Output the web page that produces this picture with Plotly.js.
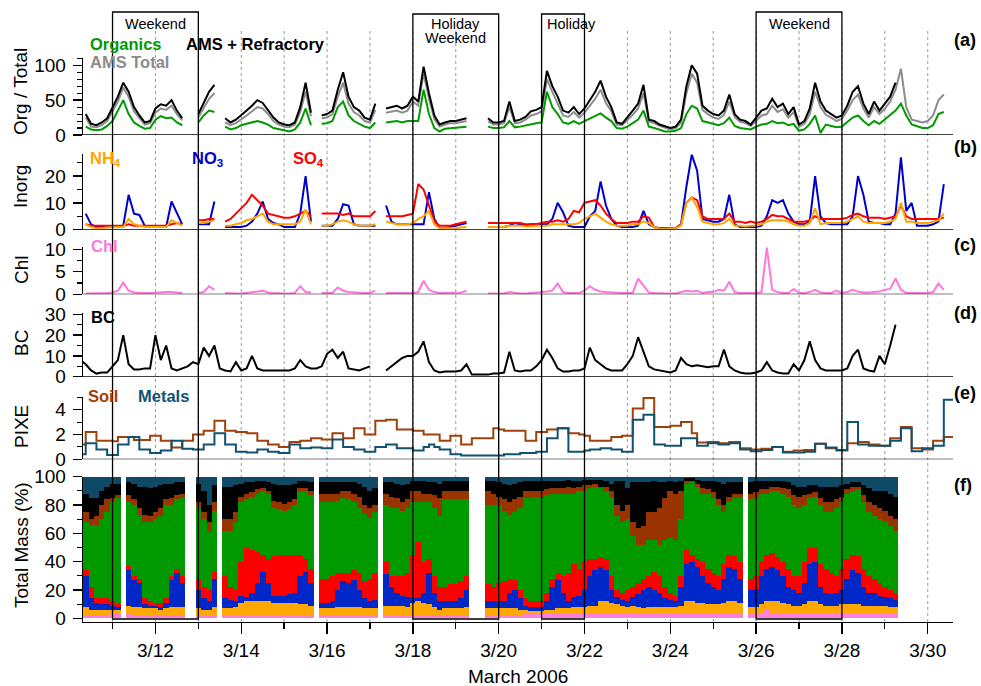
<!DOCTYPE html>
<html><head><meta charset="utf-8">
<script src="https://cdn.plot.ly/plotly-3.0.1.min.js"></script>
<style>html,body{margin:0;padding:0;background:#fff}#chart{width:981px;height:686px}</style>
</head><body><div id="chart"></div>
<script>
const n = null;
// 3-hourly time base, 2006-03-10 00:00 .. 2006-03-30 21:00 (8 values per day)
const times = [];
for (let d = 10; d <= 30; d++) for (let h = 0; h < 24; h += 3) times.push('2006-03-' + d + ' ' + String(h).padStart(2, '0') + ':00');

// (a) AMS + Refractory, AMS Total, Organics (ug/m3)
const amsRef = [
 n,n,n,30,16,14,18,24, 40,55,75,62,40,28,18,20, 38,44,42,50,35,24,n,n, 30,45,62,72,n,24,18,22,
 28,35,42,50,46,36,25,18, 15,14,18,40,75,32,n,28, 30,35,65,90,55,40,35,25, 22,45,n,38,40,42,38,42,
 55,48,98,60,28,15,18,20, 20,22,24,n,n,n,24,18, 18,20,48,20,22,26,34,36, 40,92,70,55,35,32,40,30,
 38,50,62,78,55,40,18,16, 25,35,45,72,22,20,15,12, 10,12,22,70,100,88,42,35, 30,28,35,58,30,22,20,15,
 25,35,38,52,40,45,30,40, 15,20,38,75,48,35,30,25, 28,42,62,70,45,30,48,35, 45,55,75,n,n,n,n,n,
 n,n,n,n,n,n,n,n];
const amsTot = [
 n,n,n,25,12,11,14,20, 33,48,68,55,34,24,15,17, 32,38,36,42,30,21,n,n, 25,38,52,60,n,18,14,17,
 22,28,34,40,38,30,20,15, 12,11,15,33,62,27,n,24, 25,30,55,75,45,33,28,20, 18,36,n,32,33,35,32,35,
 48,42,88,52,23,12,15,17, 17,19,20,n,n,n,20,15, 15,17,40,17,18,22,28,30, 34,80,62,46,28,26,33,25,
 32,42,52,65,46,34,15,14, 21,29,38,60,19,17,13,10, 8,10,18,60,88,75,36,30, 25,23,29,48,26,19,17,13,
 20,28,30,42,33,37,25,33, 12,16,30,62,40,29,25,20, 23,35,50,58,38,25,40,30, 38,48,65,95,40,22,20,18,
 20,28,50,58,n,n,n,n];
const org = [
 n,n,n,12,8,7,8,13, 20,35,50,30,18,13,9,10, 22,27,24,25,18,14,n,n, 18,28,35,33,n,12,8,10,
 14,16,18,20,18,15,10,8, 6,5,8,18,38,14,n,16, 17,20,40,48,28,20,16,12, 10,18,n,18,19,20,18,20,
 20,20,65,30,10,5,9,10, 10,11,12,n,n,n,12,10, 10,11,20,11,12,14,16,17, 18,62,40,30,18,16,20,16,
 20,24,28,31,25,20,10,9, 12,17,22,35,12,10,7,5, 5,6,10,30,42,38,20,18, 15,14,17,25,13,10,9,8,
 12,15,16,20,17,18,14,16, 6,8,16,28,3,15,13,11, 12,18,25,28,20,14,20,16, 22,28,35,45,28,15,12,10,
 10,14,30,33,n,n,n,n];

// (b) inorganics
const no3 = [
 n,n,n,6,2,1,1,1, 1,1,1.5,13,6,5.5,1.5,1, 1,1,1,10.5,6,2,n,n, 2,2,2,10.5,n,1,1,1,
 1,1.5,3,6,10.5,4,2.5,2, 1,1,1,6,20,3,n,1.5, 1.5,1.5,4,9.5,9,2,1.5,1.5, 1.5,1.5,n,9,3,2,2,2,
 2,2,2,14,4,0.5,0.5,1, 1.5,2,2.5,n,n,n,1,1, 1,1,1.5,2.5,2,1.5,2,2, 2,2,4,10,6.5,1.5,1,1,
 1,5,7,18,9,4,1.5,1, 1,1,1.5,7,2,1,0.5,0.5, 0.5,0.5,2,16,28,22,4,3.5, 3,3,4,13,2,1,1,1,
 1,1.5,5,11,10,11,6,3, 2,2,3,20,5,2.5,2,2, 2,2,5,20,13,3,2.5,2.5, 2,2,6,27,7,10,1.5,1.5,
 1.5,2,3,17,n,n,n,n];
const so4 = [
 n,n,n,2,1.5,1.5,1.5,1.5, 1.5,1.5,1.5,2,1.5,1.5,1.5,1.5, 1.5,1.5,1.5,2,2.5,2,n,n, 3.5,3.5,4,4,n,3,4,6,
 8,10,13,11,9,6,5.5,5, 4.5,4.5,5,6,7,5,n,6, 6,6,6,5.5,6,5,5,5, 5,7,n,5,5,5,5,5.5,
 6,17,15,9,3,1.5,1.5,1.5, 2,2.5,3,n,n,n,2.5,2.5, 2.5,2.5,2.5,2.5,2.5,2,2,2, 2.5,3,3,3.5,3,4,7,6.5,
 10,10.5,11,9,6,4,2.5,2.5, 2.5,3,3,5,4.5,1,0.5,0.5, 0.5,0.5,2,10,12,11,5,4, 4,4,4,6,3,3,2.5,3,
 2.5,3,4,5.5,5,5,4,3, 3,3,3.5,5,4,4,4,4, 4,4.5,5.5,6,5,4.5,4.5,4.5, 4,4.5,5,9,5,4,4,4,
 4,4,4,4.5,n,n,n,n];
const nh4 = [
 n,n,n,2,1,0.5,0.5,0.8, 1,1,1,4,2,1.5,1,1, 1,1,1,3.5,2.5,1.5,n,n, 2.5,2.5,3,3.5,n,1.5,1.5,2,
 2.5,3.5,4,5,6,3,2,2, 2,2,2,3,7.5,2,n,1.5, 1.5,2,3,3.5,3,2,1.5,1.5, 1.5,2,n,3,2.5,2,2,2,
 2.5,4,5,7,2,0.5,0.5,0.5, 0.5,0.8,1,n,n,n,1,1, 1,1,1.5,1.5,1.5,1.2,1.2,1.5, 1.5,1.5,2,2,2,2,2,2.5,
 4,5,6,4.5,3,2,1.5,1.5, 1.5,2,2,3,2.5,1,0.3,0.3, 0.3,0.5,1.5,10,12,8.5,3,2.5, 2,2,2.5,4,1.5,1.5,1.2,1.5,
 1.5,2,3,3.5,3.5,3.5,3,2, 1.5,1.5,2.5,8,2,2.5,2.5,2.5, 2.5,3,4,5,3,2.5,2.5,2.5, 2.5,3,4,10,3,3,2.5,2.5,
 2.5,3,3.5,6,n,n,n,n];

// (c) chloride
const chl = [
 n,n,n,0.2,0.2,0.2,0.3,0.3, 0.4,0.8,2.6,0.8,0.4,0.3,0.3,0.3, 0.4,0.5,0.5,0.5,0.4,0.3,n,n, 0.3,0.5,1.8,1.0,n,0.3,0.2,0.2,
 0.2,0.3,0.4,0.6,0.8,0.4,0.3,0.2, 0.2,0.2,0.3,1.8,0.5,0.4,n,0.3, 0.3,0.3,1.5,0.8,0.5,0.4,0.3,0.3, 0.3,0.8,n,0.3,0.3,0.2,0.2,0.2,
 0.3,0.5,3.0,1.0,0.5,0.3,0.3,0.3, 0.3,0.4,0.8,n,n,n,0.2,0.2, 0.2,0.2,0.5,0.3,0.2,0.2,0.3,0.4, 0.4,0.6,0.8,2.4,0.5,0.3,0.3,0.3,
 0.8,1.8,1.0,0.6,0.5,0.4,0.3,0.3, 0.3,0.3,3.5,2.0,0.4,0.3,0.2,0.2, 0.2,0.2,0.5,0.8,0.6,0.8,0.3,0.5, 0.5,1.0,0.8,2.8,0.5,0.3,0.3,0.3,
 0.3,0.5,10.4,1.0,0.5,0.3,0.3,1.2, 0.3,0.3,0.5,1.0,0.4,0.3,0.3,0.8, 0.3,0.5,1.0,0.6,0.4,0.4,0.5,0.6, 1.0,1.2,3.5,1.0,0.3,0.3,0.3,0.3,
 0.3,0.5,2.4,1.0,n,n,n,n];

// (d) black carbon
const bc = [
 n,n,8,6,3,1.5,2,2, 5,8,20,6,3.5,3.5,4,4, 20,8,15,4,3,4,5,7, 6,14,10,15,4,3,2.5,7,
 3,4,10,4,3,3,3,3, 3,3,4,8,5,4,4,5, 11,13,9,12,4,3.5,3,4, 5,n,n,3,5,7,9,10,
 10,12,17,7,3,2,2.5,2.5, 2.5,3,6,1,1,1,1,1.5, 1.5,2,12,3,2.5,3,3,5, 8,13,9,4,2.5,2.5,3,3,
 4,14,8,6,4,3,3,3, 6,10,19,12,5,3.5,3,2.5, 2,3,9,6,5,5.5,5,4.5, 5,5,13,5,3,2,1.5,1.5,
 2,3,7,3,2,1.5,1.5,6, 3,8,17,8,4,3,3,3, 3,4,10,13,4,3,2.5,10, 6,15,25,n,n,n,n,n,
 n,n,n,n,n,n,n,n];

// (e) PIXE soil and metals (step samples)
const soil = [
 n,n,1.2,2.2,2.2,1.5,1.5,1.5, 1.45,1.8,1.8,1.8,1.55,1.55,1.55,1.9, 1.9,1.5,1.5,0.95,0.95,1.5,1.5,2.0, 2.0,2.3,2.3,3.1,3.1,2.3,2.3,2.2,
 2.2,2.1,2.1,1.5,1.5,1.2,1.2,1.0, 1.0,1.4,1.4,1.5,1.5,1.7,1.7,1.6, 1.6,2.1,2.1,1.7,1.7,2.5,2.5,2.0, 2.0,3.1,3.1,3.2,3.2,2.4,2.4,2.4,
 2.3,2.3,2.0,2.0,2.0,1.5,1.5,1.9, 1.9,1.2,1.2,1.7,1.7,1.7,1.7,2.5, 2.4,2.3,2.3,2.3,2.3,1.5,1.5,2.2, 2.2,2.4,2.4,2.5,2.5,2.1,2.1,2.0,
 1.9,1.5,1.5,1.5,1.5,1.8,1.8,1.9, 1.9,4.1,4.1,4.95,4.95,2.6,2.6,2.6, 2.7,2.7,3.0,3.0,2.1,1.35,1.35,1.4, 1.4,1.3,1.3,1.4,1.4,0.9,0.9,0.8,
 0.8,0.85,0.85,1.0,1.0,0.6,0.6,0.7, 0.7,0.75,0.75,1.25,1.25,0.9,0.9,0.7, 0.7,1.3,1.3,1.4,1.4,1.2,1.2,1.1, 1.1,1.7,1.7,2.6,2.6,0.9,0.9,0.8,
 0.8,1.5,1.5,1.8,1.8,1.8,1.8,1.8];
const metals = [
 n,n,0.4,1.3,1.3,0.8,0.8,0.35, 0.35,1.2,1.2,1.8,1.8,0.8,0.8,0.5, 0.5,0.7,0.7,1.5,1.5,0.85,0.85,0.8, 0.8,1.2,1.2,2.1,2.1,1.2,1.2,0.6,
 0.6,0.55,0.55,0.8,0.8,0.6,0.6,0.5, 0.5,1.2,1.2,0.9,0.9,0.95,0.95,0.9, 0.9,1.6,1.6,1.0,1.0,0.8,0.8,0.6, 0.6,1.0,1.0,1.2,1.2,0.9,0.9,0.9,
 0.7,0.7,1.0,1.2,1.0,0.8,0.8,0.4, 0.4,0.3,0.3,0.3,0.3,0.3,0.3,0.3, 0.3,0.4,0.4,0.4,0.5,0.5,0.5,0.6, 0.6,1.7,1.7,2.5,2.5,0.6,0.6,0.6,
 0.7,0.8,0.8,0.9,0.9,0.8,0.8,0.6, 0.6,3.2,3.2,3.6,3.6,1.2,1.2,1.1, 1.1,1.1,1.7,1.7,1.7,1.1,1.1,1.3, 1.3,1.2,1.2,1.3,1.3,0.8,0.8,0.65,
 0.65,0.75,0.75,1.0,1.0,0.55,0.55,0.55, 0.55,0.6,0.6,1.25,1.25,0.95,0.95,0.75, 0.75,3.0,3.0,1.2,1.2,1.1,1.1,1.1, 1.1,1.5,1.5,2.5,2.5,0.65,0.65,0.9,
 0.9,1.1,1.1,4.8,4.8,4.8,4.8,4.8];

// (f) cumulative mass fractions (%), top edge of each stacked component
const fChl = [
 n,n,n,2,2,2,2,2, 3,3,n,3,2,2,2,2, 2,2,2,2,2,2,n,n, 2,2,2,2,n,2,2,2,
 2,2,2,2,2,2,2,2, 2,2,2,2,2,2,n,2, 2,2,2,2,2,2,2,2, 2,2,n,2,2,2,2,2,
 2,2,2,2,2,2,2,2, 2,2,2,n,n,n,2,2, 2,2,2,2,2,3,3,3, 3,3,3,3,3,3,3,3,
 3,3,3,3,3,3,3,3, 3,3,3,3,3,3,3,3, 3,3,3,3,3,3,3,3, 3,3,3,3,3,3,n,3,
 4,4,6,4,4,4,4,4, 4,4,4,4,4,4,4,4, 4,4,4,4,4,4,4,4, 4,4,4,n,n,n,n,n,
 n,n,n,n,n,n,n,n];
const fNH4 = [
 n,n,n,8,6,6,6,6, 6,6,n,9,8,8,7,7, 7,6,7,8,8,8,n,n, 7,6,6,8,n,7,7,8,
 11,12,12,12,12,12,11,11, 11,11,11,10,10,9,n,7, 7,7,8,8,8,8,8,7, 7,7,n,9,9,9,9,8,
 11,12,11,10,8,6,7,7, 7,7,8,n,n,n,7,7, 7,7,7,7,6,6,5,5, 5,6,6,7,7,7,8,8,
 8,9,9,12,12,11,10,9, 8,9,8,7,8,8,8,8, 8,8,9,12,12,11,11,10, 10,10,11,12,12,11,n,8,
 8,10,12,12,12,11,10,9, 9,10,12,12,10,9,9,9, 10,10,10,10,9,9,9,9, 9,8,8,n,n,n,n,n,
 n,n,n,n,n,n,n,n];
const fNO3 = [
 n,n,n,30,14,11,10,10, 9,8,n,34,27,25,10,9, 9,8,11,27,32,25,n,n, 20,14,12,28,n,14,13,12,
 16,15,18,25,33,25,16,16, 16,17,18,30,33,25,n,11, 11,12,20,26,25,27,20,14, 12,13,n,31,22,18,16,15,
 14,14,18,32,18,12,12,12, 12,14,20,n,n,n,12,12, 12,12,18,20,14,9,8,8, 8,12,22,27,18,12,15,16,
 20,30,34,36,34,20,15,13, 12,15,17,20,22,20,18,14, 13,12,22,38,40,36,30,25, 22,20,28,36,35,28,n,20,
 20,30,35,36,34,30,22,20, 18,25,38,40,22,18,17,18, 20,28,34,32,22,18,18,16, 15,14,13,n,n,n,n,n,
 n,n,n,n,n,n,n,n];
const fSO4 = [
 n,n,n,34,22,14,14,14, 12,10,n,37,30,28,14,12, 11,11,14,30,35,30,n,n, 28,22,20,33,n,30,22,20,
 40,50,48,47,45,42,44,45, 45,45,45,45,42,35,n,28, 28,30,32,32,32,34,32,26, 28,32,n,40,30,30,30,32,
 45,54,40,42,30,22,22,24, 24,26,30,n,n,n,24,22, 25,26,28,27,20,14,12,12, 12,18,28,32,30,32,38,35,
 40,42,42,43,42,30,20,18, 20,22,25,28,30,33,30,22, 18,16,30,48,45,42,40,35, 32,30,38,45,44,40,n,28,
 30,40,45,46,43,40,35,30, 30,40,50,50,38,35,32,30, 35,42,45,44,35,30,28,25, 22,20,18,n,n,n,n,n,
 n,n,n,n,n,n,n,n];
const fOrg = [
 n,n,n,68,66,66,70,75, 83,85,n,82,80,73,68,68, 70,72,80,80,84,85,n,n, 78,70,62,76,n,62,62,68,
 82,84,86,88,90,88,78,77, 76,77,80,90,90,87,n,82, 82,82,83,85,84,82,78,74, 71,75,n,80,78,78,76,78,
 82,82,82,82,78,72,84,84, 84,84,84,n,n,n,80,80, 80,76,73,75,78,85,85,86, 85,87,88,88,88,88,88,90,
 90,92,93,92,90,86,72,68, 70,58,52,52,55,55,52,55, 57,55,70,95,96,93,88,88, 85,80,75,82,85,85,n,84,
 85,88,88,90,90,88,86,80, 78,80,85,86,80,75,75,78, 82,88,90,91,82,75,72,70, 68,65,62,n,n,n,n,n,
 n,n,n,n,n,n,n,n];
const fSoil = [
 n,n,n,75,70,72,80,84, 85,87,n,87,84,78,73,72, 75,78,84,85,87,88,n,n, 82,75,68,82,n,70,70,75,
 86,88,89,91,92,90,83,82, 81,82,84,92,92,90,n,88, 88,88,88,90,90,88,86,80, 78,80,n,88,86,85,82,84,
 90,90,88,88,87,85,90,90, 90,90,90,n,n,n,90,88, 86,84,82,84,86,90,90,90, 90,91,92,92,92,93,92,93,
 94,94,95,93,93,90,80,76, 80,68,64,65,75,75,78,85, 90,88,90,97,97,95,92,91, 89,84,80,86,88,88,n,88,
 89,91,91,93,93,92,91,87, 86,87,88,89,85,82,82,84, 86,91,93,93,87,82,80,78, 76,72,70,n,n,n,n,n,
 n,n,n,n,n,n,n,n];
const fBC = [
 n,n,n,88,85,85,90,93, 95,95,n,96,95,93,93,92, 93,94,95,95,96,96,n,n, 95,90,80,94,n,93,93,94,
 95,96,96,97,97,96,95,94, 94,94,95,97,97,96,n,96, 96,96,96,96,96,96,95,93, 90,92,n,96,96,95,94,95,
 97,97,97,96,96,95,97,97, 97,97,97,n,n,n,97,97, 96,95,94,95,96,97,97,97, 97,97,97,97,97,98,97,97,
 98,98,98,98,97,95,97,97, 92,96,96,96,96,97,96,96, 97,96,97,99,99,98,97,97, 97,96,95,96,96,96,n,96,
 97,97,97,97,97,97,96,94, 93,93,94,94,93,93,93,93, 94,95,96,96,94,92,90,90, 90,88,86,n,n,n,n,n,
 n,n,n,n,n,n,n,n];

// annotations / events
const boxStart = ['2006-03-11', '2006-03-18', '2006-03-21', '2006-03-26'];
const boxEnd   = ['2006-03-13', '2006-03-20', '2006-03-22', '2006-03-28'];
const boxLabel = ['Weekend', 'Holiday<br>Weekend', 'Holiday', 'Weekend'];

const FONT = 'Liberation Sans, Arial, Helvetica, sans-serif';
const C = {org:'#009900', tot:'#8c8c8c', ref:'#000000', nh4:'#FFA500', no3:'#0000CC', so4:'#FF0000',
  chl:'#FF77DD', bc:'#000000', soil:'#A0400A', met:'#0F5272',
  fChl:'#FF80DC', fNH4:'#FFA800', fNO3:'#0028C8', fSO4:'#FF0000', fOrg:'#009900', fSoil:'#993300', fBC:'#000000', fMet:'#0E4A66'};

const L = 83, R = 953, T0 = 10, B0 = 622;
const px = x => (x - L) / (R - L);
const py = y => (B0 - y) / (B0 - T0);

function line(y, ya, color, w, shape) {
  return {type:'scatter', mode:'lines', x:times, y:y, xaxis:'x', yaxis:ya,
    line:{color:color, width:w || 2, shape:shape || 'linear'}, connectgaps:false, hoverinfo:'skip'};
}
const fTop = fBC.map(v => v == null ? null : 100);
function bar(y, color) {
  return {type:'bar', x:times, y:y, xaxis:'x', yaxis:'y6', width:11400000,
    marker:{color:color, line:{width:0}}, hoverinfo:'skip'};
}

const traces = [
  line(amsTot, 'y', C.tot), line(amsRef, 'y', C.ref), line(org, 'y', C.org),
  line(no3, 'y2', C.no3), line(so4, 'y2', C.so4), line(nh4, 'y2', C.nh4),
  line(chl, 'y3', C.chl),
  line(bc, 'y4', C.bc, 2),
  line(soil, 'y5', C.soil, 2, 'hv'), line(metals, 'y5', C.met, 2, 'hv'),
  bar(fTop, C.fMet), bar(fBC, C.fBC), bar(fSoil, C.fSoil), bar(fOrg, C.fOrg),
  bar(fSO4, C.fSO4), bar(fNO3, C.fNO3), bar(fNH4, C.fNH4), bar(fChl, C.fChl)
];

function yax(top, bottom, range, dtick, mdt) {
  return {domain:[py(bottom), py(top)], range:range, anchor:'x', dtick:dtick, tick0:0,
    showline:true, linecolor:'#000', linewidth:1.3, ticks:'outside', ticklen:9, tickwidth:1.3, tickcolor:'#000',
    minor:{dtick:mdt, tick0:0, ticks:'outside', ticklen:5, tickwidth:1.1, tickcolor:'#000', showgrid:false},
    showgrid:false, zeroline:false, tickfont:{size:19, color:'#000', family:FONT}, ticklabelstandoff:3, fixedrange:true};
}

const shapes = [];
for (let d = 11; d <= 30; d++) {
  const ds = '2006-03-' + d;
  shapes.push({type:'line', xref:'x', yref:'paper', x0:ds, x1:ds, y0:0, y1:py(29),
    line:{color:'#9a9a9a', width:1, dash:'dot'}, layer:'below'});
}
['y', 'y2', 'y3', 'y4', 'y5'].forEach(ya => shapes.push({type:'line', xref:'paper', x0:0, x1:1, yref:ya, y0:0, y1:0,
  line:{color:'#000', width:1.3}, layer:'above'}));
boxStart.forEach((s, i) => shapes.push({type:'rect', xref:'x', yref:'paper', x0:s, x1:boxEnd[i],
  y0:py(619), y1:py(i === 0 || i === 3 ? 12 : 14), line:{color:'#000', width:1.3}, fillcolor:'rgba(0,0,0,0)', layer:'above'}));

const annotations = [];
function ann(text, x, y, opt) {
  annotations.push(Object.assign({text:text, x:x, y:y, xref:'paper', yref:'paper', showarrow:false,
    xanchor:'left', yanchor:'middle', font:{family:FONT, size:16.5, color:'#000'}}, opt || {}));
}
// box labels
boxLabel.forEach((lab, i) => {
  const mid = (Date.parse(boxStart[i]) + Date.parse(boxEnd[i])) / 2;
  lab.split('<br>').forEach((part, k) => {
    const o = {xref:'x', font:{family:FONT, size:14.5, color:'#000'}, borderpad:0};
    if (lab === 'Holiday') { o.xanchor = 'left'; o.xshift = 4; ann(part, boxStart[i], py(24 + 15 * k), o); }
    else { o.xanchor = 'center'; ann(part, mid, py(23.5 + 15 * k), o); }
  });
});
const B = {family:FONT, size:16.5, weight:'bold'};
ann('<b>Organics</b>', px(88), py(44), {font:Object.assign({}, B, {color:C.org})});
ann('<b>AMS + Refractory</b>', px(184), py(44), {font:Object.assign({}, B, {color:'#000'})});
ann('<b>AMS Total</b>', px(88), py(62), {font:Object.assign({}, B, {color:C.tot})});
ann('<b>NH<sub>4</sub></b>', px(88), py(159), {font:Object.assign({}, B, {color:C.nh4})});
ann('<b>NO<sub>3</sub></b>', px(190), py(159), {font:Object.assign({}, B, {color:C.no3})});
ann('<b>SO<sub>4</sub></b>', px(291), py(159), {font:Object.assign({}, B, {color:C.so4})});
ann('<b>Chl</b>', px(89), py(246), {font:Object.assign({}, B, {color:C.chl})});
ann('<b>BC</b>', px(89), py(317), {font:Object.assign({}, B, {color:'#000'})});
ann('<b>Soil</b>', px(86), py(396), {font:Object.assign({}, B, {color:C.soil})});
ann('<b>Metals</b>', px(136), py(396), {font:Object.assign({}, B, {color:C.met})});
// y titles
const TF = {family:FONT, size:19, color:'#000'};
[['Org / Total', 92], ['Inorg', 187], ['Chl', 270], ['BC', 343], ['PIXE', 427], ['Total Mass (%)', 545]].forEach(t =>
  ann(t[0], px(21), py(t[1]), {textangle:-90, xanchor:'center', font:TF}));
// panel letters
[['(a)', 40], ['(b)', 147], ['(c)', 245], ['(d)', 313], ['(e)', 393], ['(f)', 485]].forEach(t =>
  ann('<b>' + t[0] + '</b>', px(952), py(t[1]), {font:{family:FONT, size:18, color:'#000'}}));
ann('March 2006', 0.5, py(677), {xanchor:'center', font:TF});

const layout = {
  width:981, height:686, margin:{l:L, r:981 - R, t:T0, b:686 - B0}, paper_bgcolor:'#fff', plot_bgcolor:'rgba(0,0,0,0)',
  font:{family:FONT, color:'#000'}, showlegend:false, barmode:'overlay', bargap:0,
  xaxis:{type:'date', range:['2006-03-10 07:29', '2006-03-30 14:08'], anchor:'y6', domain:[0, 1],
    showline:true, linecolor:'#000', linewidth:1.3, ticks:'outside', ticklen:11, tickwidth:1.3, tickcolor:'#000',
    dtick:2 * 86400000, tick0:'2006-03-12', tickformat:'%-m/%d', tickfont:{size:19, color:'#000', family:FONT},
    minor:{dtick:86400000, tick0:'2006-03-11', ticks:'outside', ticklen:6, tickwidth:1.3, tickcolor:'#000', showgrid:false},
    showgrid:false, zeroline:false, ticklabelstandoff:0, fixedrange:true},
  yaxis:  yax(58.3, 135, [0, 110], 50, 10),
  yaxis2: yax(154.3, 229.7, [0, 28.1], 10, 5),
  yaxis3: yax(246.7, 294.3, [0, 10.58], 5, 2.5),
  yaxis4: yax(313.3, 376.7, [0, 30.5], 10, 5),
  yaxis5: yax(396.7, 459.3, [0, 5.05], 2, 1),
  yaxis6: yax(476.7, 622, [-2.61, 100], 20, 10),
  shapes:shapes, annotations:annotations
};
Plotly.newPlot('chart', traces, layout, {staticPlot:true, displayModeBar:false});
</script></body></html>
